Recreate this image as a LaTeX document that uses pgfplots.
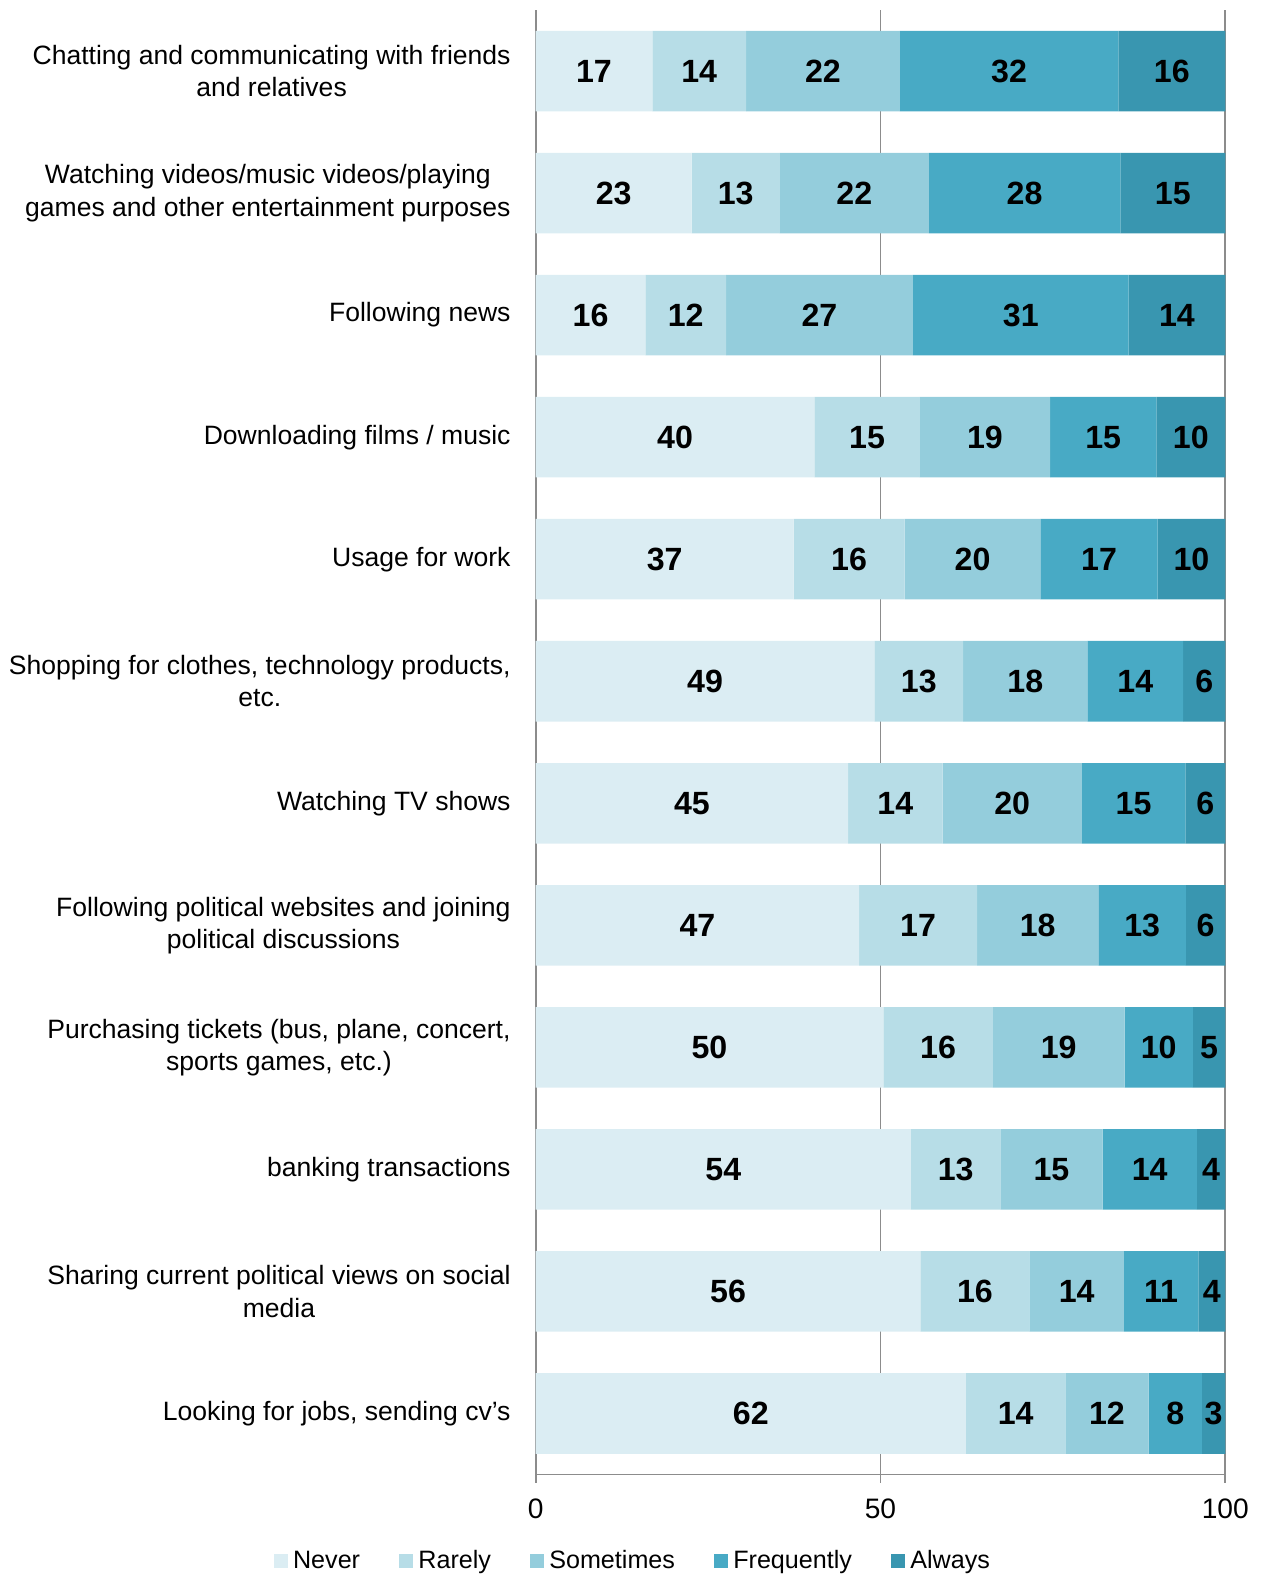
\documentclass[border=0pt]{standalone}
\usepackage{pgfplots}
\pgfplotsset{compat=1.18}
\usepackage{fontspec}
\setmainfont{Liberation Sans}
\definecolor{cNever}{HTML}{DBEDF3}
\definecolor{cRarely}{HTML}{B7DDE7}
\definecolor{cSome}{HTML}{94CDDC}
\definecolor{cFreq}{HTML}{48AAC5}
\definecolor{cAlways}{HTML}{3996B0}
\definecolor{axgray}{HTML}{8C8C8C}
\begin{document}
\begin{tikzpicture}
\begin{axis}[
  width=343pt, height=728.5pt, scale only axis, clip=false,
  xbar stacked, bar width=0.66,
  xmin=0, xmax=100, ymin=-0.5, ymax=11.5,
  axis lines=left, axis line style={-, axgray, line width=0.9pt},
  xtick={0,50,100}, xmajorgrids, grid style={axgray, line width=0.9pt},
  x tick style={axgray, line width=0.9pt}, tick align=outside,
  major tick length=4pt,
  xticklabel style={font=\fontsize{14}{16}\selectfont, yshift=-4.5pt},
  /pgf/number format/assume math mode=true,
  ytick={0,...,11}, y tick style={draw=none},
  minor ytick={-0.5,0.5,...,11.5}, minor tick length=4pt,
  minor y tick style={axgray, line width=0.9pt},
  yticklabel style={font=\fontsize{13.2}{16}\selectfont, align=center, xshift=-5pt},
  yticklabels={{Looking for jobs, sending cv's},
    {Sharing current political views on social\\media},
    {banking transactions},
    {Purchasing tickets (bus, plane, concert,\\sports games, etc.)},
    {Following political websites and joining\\political discussions},
    {Watching TV shows},
    {Shopping for clothes, technology products,\\etc.},
    {Usage for work},
    {Downloading films / music},
    {Following news},
    {Watching videos/music videos/playing\\games and other entertainment purposes},
    {Chatting and communicating with friends\\and relatives}},
  point meta=explicit symbolic,
  nodes near coords,
  every node near coord/.append style={anchor=center, font=\bfseries\fontsize{16}{16}\selectfont},
  legend columns=5,
  legend style={draw=none, inner sep=0pt, outer sep=0pt, at={(rel axis cs:0.141,-0.059)}, anchor=center,
     font=\fontsize{12.5}{14}\selectfont,
     nodes={inner sep=1pt},
     /tikz/every even column/.append style={column sep=18.5pt},
     /tikz/every odd column/.append style={column sep=1.5pt}},
  legend image code/.code={\fill[#1] (0pt,-3.5pt) rectangle (7pt,3.5pt);},
]
\addplot[fill=cNever, draw=none] coordinates {
 (62.4,0) [62] (55.8,1) [56] (54.4,2) [54] (50.4,3) [50] (46.9,4) [47] (45.3,5) [45]
 (49.1,6) [49] (37.4,7) [37] (40.4,8) [40] (15.9,9) [16] (22.6,10) [23] (16.9,11) [17]};
\addplot[fill=cRarely, draw=none] coordinates {
 (14.4,0) [14] (15.8,1) [16] (13.0,2) [13] (15.9,3) [16] (17.1,4) [17] (13.7,5) [14]
 (12.9,6) [13] (16.1,7) [16] (15.3,8) [15] (11.7,9) [12] (12.8,10) [13] (13.6,11) [14]};
\addplot[fill=cSome, draw=none] coordinates {
 (12.1,0) [12] (13.7,1) [14] (14.8,2) [15] (19.1,3) [19] (17.6,4) [18] (20.2,5) [20]
 (18.0,6) [18] (19.7,7) [20] (18.9,8) [19] (27.1,9) [27] (21.6,10) [22] (22.3,11) [22]};
\addplot[fill=cFreq, draw=none] coordinates {
 (7.7,0) [8] (10.8,1) [11] (13.7,2) [14] (9.9,3) [10] (12.7,4) [13] (15.0,5) [15]
 (13.9,6) [14] (17.0,7) [17] (15.4,8) [15] (31.3,9) [31] (27.8,10) [28] (31.7,11) [32]};
\addplot[fill=cAlways, draw=none] coordinates {
 (3.4,0) [3] (3.9,1) [4] (4.1,2) [4] (4.7,3) [5] (5.7,4) [6] (5.8,5) [6]
 (6.1,6) [6] (9.8,7) [10] (10.0,8) [10] (14.0,9) [14] (15.2,10) [15] (15.5,11) [16]};
\legend{Never, Rarely, Sometimes, Frequently, Always}
\coordinate (bbA) at (rel axis cs:-0.777,1.00686);
\coordinate (bbB) at (rel axis cs:1.0569,-0.0693);
\end{axis}
\pgfresetboundingbox
\path[use as bounding box] (bbA) rectangle (bbB);
\end{tikzpicture}
\end{document}
